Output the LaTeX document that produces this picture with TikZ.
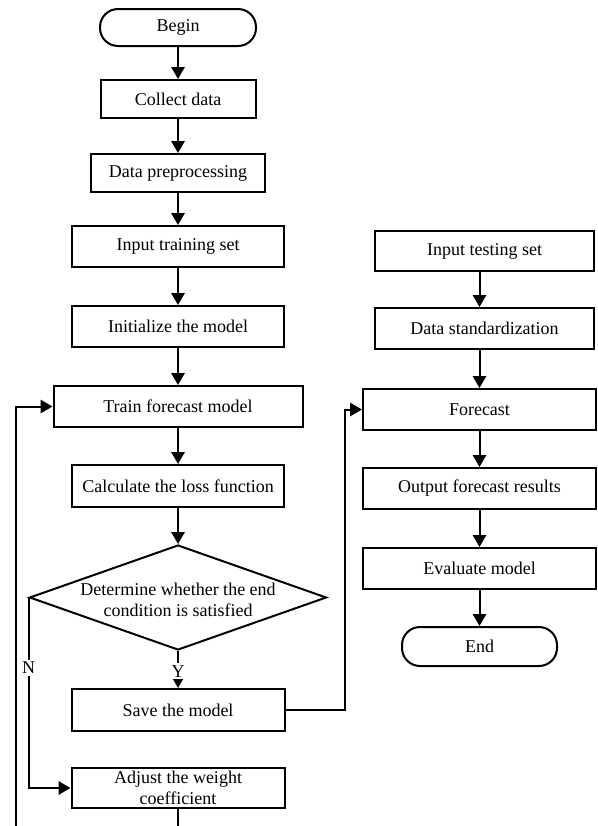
\documentclass[tikz,border=0pt]{standalone}
\usepackage{fontspec}
\setmainfont{Liberation Serif}
\usetikzlibrary{arrows.meta,shapes.geometric}
\begin{document}
\begin{tikzpicture}[x=0.75pt,y=-0.75pt,
  every node/.style={font=\fontsize{13.5pt}{16pt}\selectfont},
  box/.style={draw,line width=1.5pt,inner sep=0pt,align=center},
  term/.style={box,rounded corners=13.5pt},
  arr/.style={line width=1.5pt,-{Triangle[width=10pt,length=9pt]}},
  lbl/.style={fill=white,inner sep=1.5pt}]
\clip (0,0) rectangle (598,826);
% left column
\node[term,minimum width=0.75*156pt,minimum height=0.75*37pt] (begin) at (178,27.5) {Begin};
\node[box,minimum width=0.75*155pt,minimum height=0.75*38pt] (collect) at (178,99) {Collect data};
\node[box,minimum width=0.75*174pt,minimum height=0.75*38pt] (prep) at (178,173) {Data preprocessing};
\node[box,minimum width=0.75*212pt,minimum height=0.75*41pt] (itrain) at (178,246.5) {Input training set};
\node[box,minimum width=0.75*212pt,minimum height=0.75*41pt] (init) at (178,326.5) {Initialize the model};
\node[box,minimum width=0.75*249pt,minimum height=0.75*41pt] (trainm) at (178,406.5) {Train forecast model};
\node[box,minimum width=0.75*212pt,minimum height=0.75*42pt] (loss) at (178,486) {Calculate the loss function};
\node[draw,line width=1.5pt,diamond,inner sep=0pt,aspect=2.83,minimum width=0.75*297pt,minimum height=0.75*105pt] (dia) at (178,597.5) {};
\node[align=center] (diatext) at (178,600) {Determine whether the end\\condition is satisfied};
\node[box,minimum width=0.75*213pt,minimum height=0.75*42pt] (save) at (178,710) {Save the model};
\node[box,minimum width=0.75*213pt,minimum height=0.75*40pt,font=\fontsize{13.5pt}{15.5pt}\selectfont] (adjust) at (178,788) {Adjust the weight\\coefficient};
% right column
\node[box,minimum width=0.75*219pt,minimum height=0.75*40pt] (itest) at (484.5,251) {Input testing set};
\node[box,minimum width=0.75*219pt,minimum height=0.75*41pt] (dstd) at (484.5,328.5) {Data standardization};
\node[box,minimum width=0.75*233pt,minimum height=0.75*41pt] (fc) at (479.5,409.5) {Forecast};
\node[box,minimum width=0.75*233pt,minimum height=0.75*41pt] (out) at (479.5,488.5) {Output forecast results};
\node[box,minimum width=0.75*233pt,minimum height=0.75*41pt] (eval) at (479.5,568.5) {Evaluate model};
\node[term,minimum width=0.75*155pt,minimum height=0.75*39pt] (end) at (479.5,646.5) {End};
\coordinate (rc) at (345,0);
\coordinate (lb) at (16,860);
% connectors
\draw[arr] (begin) -- (collect);
\draw[arr] (collect) -- (prep);
\draw[arr] (prep) -- (itrain);
\draw[arr] (itrain) -- (init);
\draw[arr] (init) -- (trainm);
\draw[arr] (trainm) -- (loss);
\draw[arr] (loss) -- (dia);
\draw[arr] (dia.south) -- node[lbl,pos=0.55] {Y} (save.north);
\draw[arr] (dia.west) -- node[lbl,pos=0.37] {N} (dia.west |- adjust.west) -- (adjust.west);
\draw[arr] (adjust.south) -- (adjust.south |- lb) -- (lb) |- (trainm.west);
\draw[arr] (save.east) -- (save.east -| rc) |- (fc.west);
\draw[arr] (itest.south -| fc.north) -- (dstd.north -| fc.north);
\draw[arr] (dstd.south -| fc.north) -- (fc.north);
\draw[arr] (fc) -- (out);
\draw[arr] (out) -- (eval);
\draw[arr] (eval) -- (end);
\end{tikzpicture}
\end{document}
